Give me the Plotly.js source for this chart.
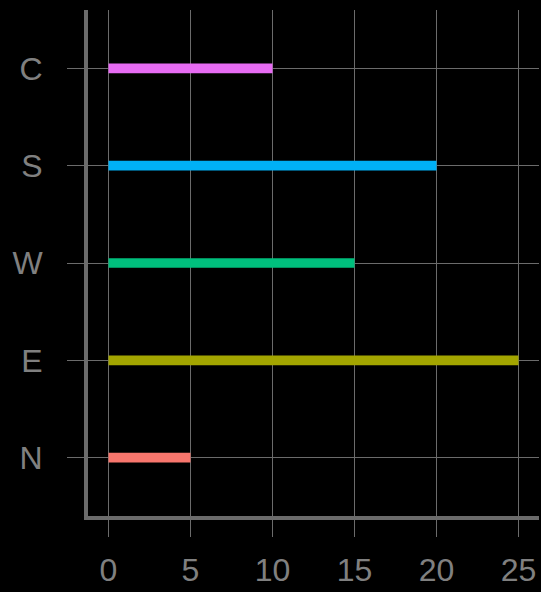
<!DOCTYPE html>
<html>
<head>
<meta charset="utf-8">
<script src="https://cdn.plot.ly/plotly-3.0.1.min.js"></script>
<style>html,body{margin:0;padding:0;background:#000;}#chart{width:541px;height:592px;}</style>
</head>
<body>
<div id="chart"></div>
<script>
const categories = ['N', 'E', 'W', 'S', 'C'];
const values = [5, 25, 15, 20, 10];
const barColors = ['#F8766D', '#A3A500', '#00BF7D', '#00B0F6', '#E76BF3'];
const xTicks = [0, 5, 10, 15, 20, 25];

const gridCol = '#6b6b6b';
const textCol = '#808080';

const trace = {
  type: 'bar',
  orientation: 'h',
  y: categories,
  x: values,
  width: 0.1,
  marker: {color: barColors, line: {width: 0}},
  hoverinfo: 'x+y'
};

const layout = {
  width: 541,
  height: 592,
  paper_bgcolor: '#000',
  plot_bgcolor: '#000',
  margin: {l: 88, r: 2, t: 10, b: 76, pad: 0},
  showlegend: false,
  font: {family: 'Liberation Sans, Arial, sans-serif', color: textCol, size: 32},
  xaxis: {
    range: [-1.25, 26.25],
    tickvals: xTicks,
    ticktext: xTicks.map(String),
    showgrid: true,
    gridcolor: gridCol,
    gridwidth: 1,
    zeroline: false,
    showline: true,
    linecolor: gridCol,
    linewidth: 4,
    ticks: 'outside',
    ticklen: 17,
    tickwidth: 1,
    tickcolor: gridCol,
    ticklabelstandoff: 6,
    tickfont: {size: 32, color: textCol}
  },
  yaxis: {
    type: 'category',
    categoryorder: 'array',
    categoryarray: categories,
    range: [-0.6, 4.6],
    showgrid: true,
    gridcolor: gridCol,
    gridwidth: 1,
    zeroline: false,
    showline: true,
    linecolor: gridCol,
    linewidth: 4,
    ticks: 'outside',
    ticklen: 17,
    tickwidth: 1,
    tickcolor: gridCol,
    ticklabelstandoff: 18,
    tickfont: {size: 32, color: textCol}
  }
};

Plotly.newPlot('chart', [trace], layout, {displayModeBar: false, staticPlot: true});
</script>
</body>
</html>
